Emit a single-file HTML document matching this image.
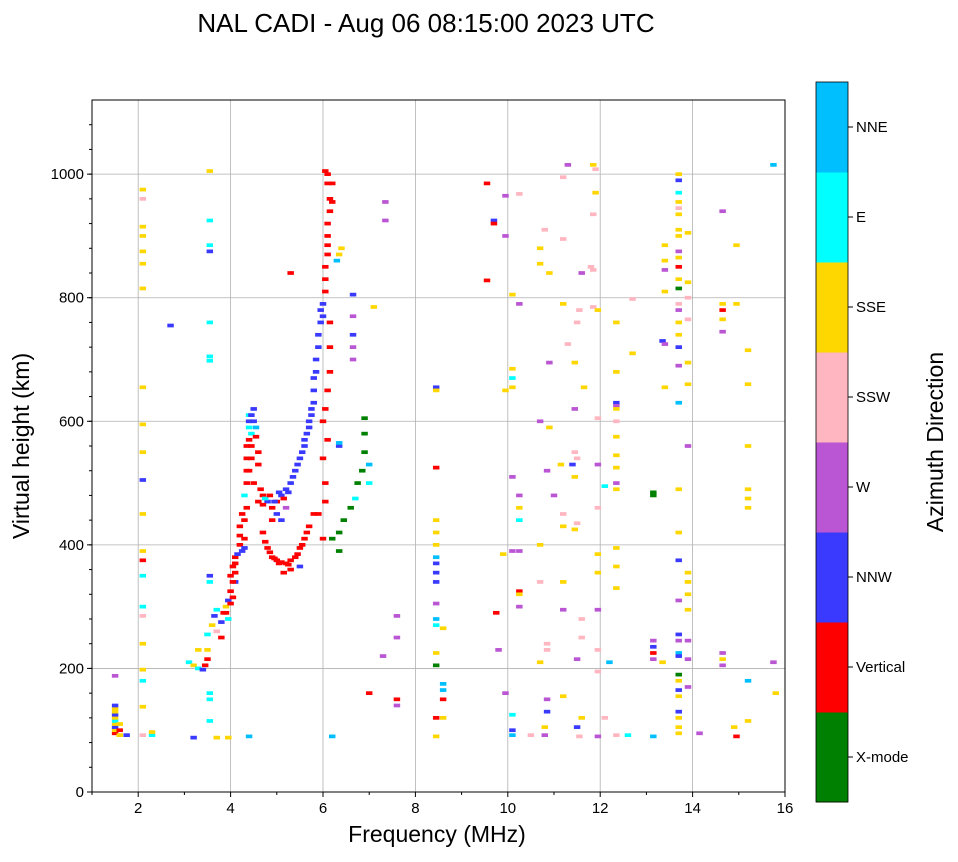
<!DOCTYPE html>
<html><head><meta charset="utf-8"><style>
body{margin:0;background:#fff;font-family:"Liberation Sans",sans-serif}
svg text{font-family:"Liberation Sans","DejaVu Sans",sans-serif}
</style></head><body>
<svg id="c" width="958" height="857" xmlns="http://www.w3.org/2000/svg">
<text x="426" y="32" font-size="26" text-anchor="middle">NAL CADI - Aug 06 08:15:00 2023 UTC</text>
<g id="grid"></g>
<g id="marks"></g>
<rect x="92" y="100" width="693" height="692" fill="none" stroke="#000" stroke-width="1"/>
<g id="axes"></g>
<text x="437" y="842" font-size="23" text-anchor="middle">Frequency (MHz)</text>
<text transform="translate(29,446) rotate(-90)" font-size="23" text-anchor="middle">Virtual height (km)</text>
<g id="cbar"></g>
<text transform="translate(943,442) rotate(-90)" font-size="23" text-anchor="middle">Azimuth Direction</text>
</svg>
<script>
const dirLabels=["X-mode","Vertical","NNW","W","SSW","SSE","E","NNE"];
const dirColors=["#008000","#ff0000","#3a3aff","#ba55d3","#ffb6c1","#ffd700","#00ffff","#00bfff"];
const xTicks=[2,4,6,8,10,12,14,16];
const yTicks=[0,200,400,600,800,1000];
const pts=[
[1.5,95,1],[1.5,100,5],[1.5,105,2],[1.5,110,5],[1.5,115,6],[1.5,120,5],[1.5,125,2],[1.5,130,5],[1.5,135,5],[1.5,140,2],[1.6,92,5],[1.6,100,1],[1.6,110,5],[1.5,188,3],[1.75,92,2],[2.1,92,4],[2.3,92,6],[2.3,97,5],
[2.1,975,5],[2.1,960,4],[2.1,915,5],[2.1,900,5],[2.1,875,5],[2.1,855,5],[2.1,815,5],[2.1,655,5],[2.1,595,5],[2.1,550,5],[2.1,505,2],[2.1,450,5],[2.1,390,5],[2.1,375,1],[2.1,350,6],[2.1,300,6],[2.1,285,4],[2.1,240,5],[2.1,198,5],[2.1,180,6],[2.1,138,5],
[3.55,1005,5],[3.55,925,6],[3.55,885,6],[3.55,875,2],[3.55,760,6],[3.55,705,6],[3.55,698,6],[3.55,350,2],[3.55,340,6],[3.55,160,6],[3.55,150,6],[3.55,115,6],
[3.1,210,6],[3.2,205,5],[3.3,200,6],[3.4,198,2],[3.45,205,1],[3.5,215,1],[3.5,230,5],[3.3,230,5],[3.5,255,6],[3.6,270,5],[3.65,285,2],[3.7,295,6],[3.7,260,4],[3.8,250,1],[3.8,275,2],[3.85,290,1],[3.9,300,5],[3.95,310,2],[4.0,325,1],[4.0,350,1],[4.05,365,1],[4.1,340,2],[4.1,380,1],[4.2,400,1],[4.2,430,1],[4.25,450,1],[4.3,395,2],[4.3,480,6],[4.35,520,1],[4.35,560,1],[4.4,600,2],[4.4,610,6],[4.45,580,6],[4.5,620,2],[4.45,540,1],[4.5,500,1],[4.55,590,7],[4.6,550,1],[4.6,470,1],[4.7,480,1],[4.8,470,2],[4.9,460,1],[5.0,470,1],[5.1,480,2],[5.2,490,2],[5.3,500,2],[5.4,520,2],[5.5,540,2],[5.6,560,2],[5.65,580,2],[5.7,600,2],[5.75,620,2],[5.8,650,2],[5.85,680,2],[5.9,720,2],[5.95,760,2],[6.0,790,2],[6.05,830,1],[6.1,870,1],[6.1,900,1],[6.15,940,1],[6.1,985,1],[6.05,1005,1],[6.2,985,1],[6.2,955,1],[6.0,600,1],[6.0,540,1],[5.9,450,1],[6.0,410,1],
[3.9,290,1],[3.95,280,6],[4.0,305,1],[4.05,315,1],[4.05,340,1],[4.1,355,1],[4.1,370,1],[4.15,385,2],[4.2,415,1],[4.25,390,2],[4.3,410,1],[4.3,440,1],[4.35,460,1],[4.35,500,1],[4.35,540,1],[4.4,520,1],[4.4,570,1],[4.4,590,6],[4.45,610,2],[4.45,560,1],[4.5,600,2],[4.55,575,1],[4.6,530,1],[4.65,490,1],[4.7,465,1],[4.75,475,6],[4.85,480,1],[4.95,470,2],[5.05,485,2],[5.15,475,1],[5.25,485,2],[5.35,510,2],[5.45,530,2],[5.55,550,2],[5.6,570,2],[5.7,590,2],[5.75,610,2],[5.8,630,2],[5.8,670,2],[5.85,700,2],[5.9,740,2],[5.95,780,2],[6.0,770,2],[6.05,810,1],[6.05,850,1],[6.1,885,1],[6.1,920,1],[6.15,960,1],[6.1,1000,1],[6.15,760,1],[6.15,720,1],[6.15,680,1],[6.1,650,1],[6.05,620,1],[6.1,570,1],[6.05,500,1],[6.05,470,1],
[4.7,420,1],[4.8,395,1],[4.9,380,1],[5.0,375,1],[5.1,372,1],[5.2,370,1],[5.3,375,1],[5.4,380,1],[5.5,395,1],[5.6,410,1],[5.7,430,1],[5.8,450,1],[5.3,360,1],[5.5,365,2],[5.15,355,1],[5.1,440,2],[4.9,440,1],[5.0,450,2],[5.2,460,3],
[4.75,405,1],[4.85,388,1],[4.95,378,1],[5.05,370,1],[5.25,368,1],[5.45,385,1],[5.55,400,1],[5.65,420,1],
[6.2,410,0],[6.35,390,0],[6.35,420,0],[6.45,440,0],[6.6,460,0],[6.7,475,6],[6.75,500,0],[6.85,520,0],[6.9,550,0],[6.9,580,0],[6.9,605,0],[7.0,530,7],[7.0,500,6],[6.35,560,2],[6.35,565,7],[6.35,870,5],[6.4,880,5],[6.3,860,7],[6.65,700,3],[6.65,720,3],[6.65,740,2],[6.65,805,2],[6.65,770,3],[7.35,955,3],[7.35,925,3],[7.1,785,5],[7.0,160,1],[7.6,150,1],[7.6,140,3],[7.6,285,3],[7.6,250,3],[7.3,220,3],[2.7,755,2],[5.3,840,1],[6.2,90,7],[4.4,90,7],[3.7,88,5],[3.95,88,5],[3.2,88,2],
[8.45,655,2],[8.45,650,5],[8.45,525,1],[8.45,440,5],[8.45,420,5],[8.45,400,5],[8.45,380,7],[8.45,370,2],[8.45,355,2],[8.45,340,2],[8.45,305,3],[8.45,280,7],[8.45,270,6],[8.6,265,5],[8.45,225,5],[8.45,205,0],[8.6,175,7],[8.6,165,7],[8.6,150,1],[8.45,120,1],[8.6,120,5],[8.45,90,5],
[9.55,985,1],[9.55,828,1],[9.7,925,2],[9.7,920,1],[9.95,965,3],[9.95,900,3],[10.25,968,4],[10.1,805,5],[10.25,790,3],[10.1,685,5],[10.1,670,6],[10.1,655,5],[9.95,650,5],[10.1,510,3],[10.25,480,3],[10.25,460,5],[10.25,440,6],[10.25,390,3],[10.1,390,3],[9.9,385,5],[10.25,325,1],[10.25,320,5],[10.25,300,3],[9.75,290,1],[9.8,230,3],[9.95,160,3],[10.1,125,6],[10.1,100,2],[10.1,92,7],[10.5,92,4],[10.8,92,3],[10.8,105,5],
[10.7,600,3],[10.7,400,5],[10.7,340,4],[10.85,240,4],[10.85,230,4],[10.7,210,5],[10.85,150,3],[10.85,130,2],[11.0,480,3],[10.9,590,5],[10.8,910,4],[10.7,880,5],[10.7,855,5],[10.9,840,5],[10.9,695,3],[10.85,520,3],[11.15,530,5],[11.2,450,4],[11.2,430,5],[11.2,340,5],[11.2,295,3],[11.2,155,5],[11.2,895,4],[11.3,1015,3],[11.2,995,4],[11.2,790,5],[11.3,725,4],[11.45,695,5],[11.45,620,3],[11.45,550,4],[11.5,540,4],[11.45,510,5],[11.45,425,5],[11.4,530,2],[11.5,435,4],[11.5,760,4],[11.55,780,4],[11.6,840,3],[11.65,655,5],[11.6,280,4],[11.6,250,4],[11.5,215,3],[11.5,105,2],[11.6,120,5],[11.55,90,4],
[11.85,1015,5],[11.9,1008,4],[11.85,935,4],[11.8,850,4],[11.85,845,4],[11.85,785,4],[11.95,780,5],[11.9,970,5],[11.95,605,4],[11.95,530,3],[11.95,460,4],[11.95,385,5],[11.95,355,5],[11.95,295,3],[11.95,230,4],[11.95,195,4],[12.1,120,4],[12.1,495,6],[11.95,90,3],[12.35,760,5],[12.35,680,5],[12.35,630,2],[12.35,625,3],[12.35,620,5],[12.35,600,4],[12.35,575,5],[12.35,545,5],[12.35,525,5],[12.35,500,3],[12.35,490,5],[12.35,395,5],[12.35,365,5],[12.35,330,5],[12.2,210,7],[12.35,92,4],[12.6,92,6],[12.7,710,5],[12.7,798,4],
[13.15,480,0],[13.15,485,0],[13.15,245,3],[13.15,235,2],[13.15,225,1],[13.15,215,3],[13.15,90,7],[13.4,885,5],[13.4,860,5],[13.4,845,3],[13.4,810,5],[13.35,730,2],[13.4,725,3],[13.4,655,5],[13.35,210,5],
[13.7,1000,5],[13.7,990,2],[13.7,970,6],[13.7,955,5],[13.7,945,4],[13.7,935,5],[13.7,910,5],[13.7,900,5],[13.7,875,3],[13.7,865,5],[13.7,850,1],[13.7,830,5],[13.7,815,0],[13.7,790,4],[13.7,780,3],[13.7,760,5],[13.7,740,5],[13.7,720,2],[13.7,690,3],[13.7,630,7],[13.7,490,5],[13.7,420,5],[13.7,375,2],[13.7,310,3],[13.7,255,2],[13.7,245,3],[13.7,225,7],[13.7,220,2],[13.7,190,0],[13.7,180,5],[13.7,165,2],[13.7,155,5],[13.7,130,2],[13.7,120,5],[13.7,105,5],[13.7,95,5],
[13.9,905,5],[13.9,825,5],[13.9,800,4],[13.9,765,4],[13.9,695,5],[13.9,660,5],[13.9,560,3],[13.9,355,5],[13.9,340,5],[13.9,320,5],[13.9,295,5],[13.9,245,3],[13.9,215,3],[13.9,170,3],[14.15,95,3],[14.65,940,3],[14.65,790,5],[14.65,780,1],[14.65,765,5],[14.65,745,3],[14.65,225,3],[14.65,215,5],[14.65,205,3],[14.95,885,5],[14.95,790,5],[14.9,105,5],[14.95,90,1],[15.2,715,5],[15.2,660,5],[15.2,560,5],[15.2,490,5],[15.2,475,5],[15.2,460,5],[15.2,180,7],[15.2,115,5],[15.75,1015,7],[15.75,210,3],[15.8,160,5]
];
const NS="http://www.w3.org/2000/svg";
const X0=92,X1=785,Y0=792,Y1=100,FMIN=1,FMAX=16,HMIN=0,HMAX=1120;
const xs=f=>X0+(f-FMIN)/(FMAX-FMIN)*(X1-X0);
const ys=h=>Y0-(h-HMIN)/(HMAX-HMIN)*(Y0-Y1);
function mk(tag,attrs,parent){const e=document.createElementNS(NS,tag);for(const k in attrs)e.setAttribute(k,attrs[k]);parent.appendChild(e);return e;}
const grid=document.getElementById('grid'),axes=document.getElementById('axes'),marks=document.getElementById('marks'),cb=document.getElementById('cbar');
xTicks.forEach(t=>{const x=xs(t);
 if(t<FMAX){const g=mk('line',{x1:x,x2:x,y1:Y1,y2:Y0,stroke:'#b0b0b0','stroke-width':0.8},grid);
 
 }
 mk('line',{x1:x,x2:x,y1:Y0,y2:Y0+5,stroke:'#000'},axes);
 const tx=mk('text',{x:x,y:Y0+21,'font-size':15,'text-anchor':'middle'},axes);tx.textContent=t;
 
 
});
for(let f=1;f<=16;f+=1){if(f%2)mk('line',{x1:xs(f),x2:xs(f),y1:Y0,y2:Y0+3,stroke:'#000'},axes);}
yTicks.forEach(t=>{const y=ys(t);
 if(t>0){const g=mk('line',{x1:X0,x2:X1,y1:y,y2:y,stroke:'#b0b0b0','stroke-width':0.8},grid);
 
 }
 mk('line',{x1:X0-5,x2:X0,y1:y,y2:y,stroke:'#000'},axes);
 const tx=mk('text',{x:X0-8,y:y+5,'font-size':15,'text-anchor':'end'},axes);tx.textContent=t;
 
 
});
for(let h=0;h<=1100;h+=40){mk('line',{x1:X0-3,x2:X0,y1:ys(h),y2:ys(h),stroke:'#000'},axes);}
pts.forEach(p=>{const r=mk('rect',{x:xs(p[0]-0.07),y:ys(p[1]+3),width:xs(0.14)-xs(0),height:Math.max(3.5,ys(0)-ys(6)),fill:dirColors[p[2]]},marks);
 
 
});
const CX=816,CW=32,CT=82,CB=802,seg=(CB-CT)/dirLabels.length;
dirLabels.forEach((lab,i)=>{const y=CB-(i+1)*seg;
 const r=mk('rect',{x:CX,y:y,width:CW,height:seg+0.5,fill:dirColors[i]},cb);
 
 
 mk('line',{x1:CX+CW,x2:CX+CW+5,y1:y+seg/2,y2:y+seg/2,stroke:'#000'},cb);
 const t=mk('text',{x:CX+CW+8,y:y+seg/2+5,'font-size':15},cb);t.textContent=lab;
 
 
});
mk('rect',{x:CX,y:CT,width:CW,height:CB-CT,fill:'none',stroke:'#000','stroke-width':0.8},cb);
</script>
</body></html>
